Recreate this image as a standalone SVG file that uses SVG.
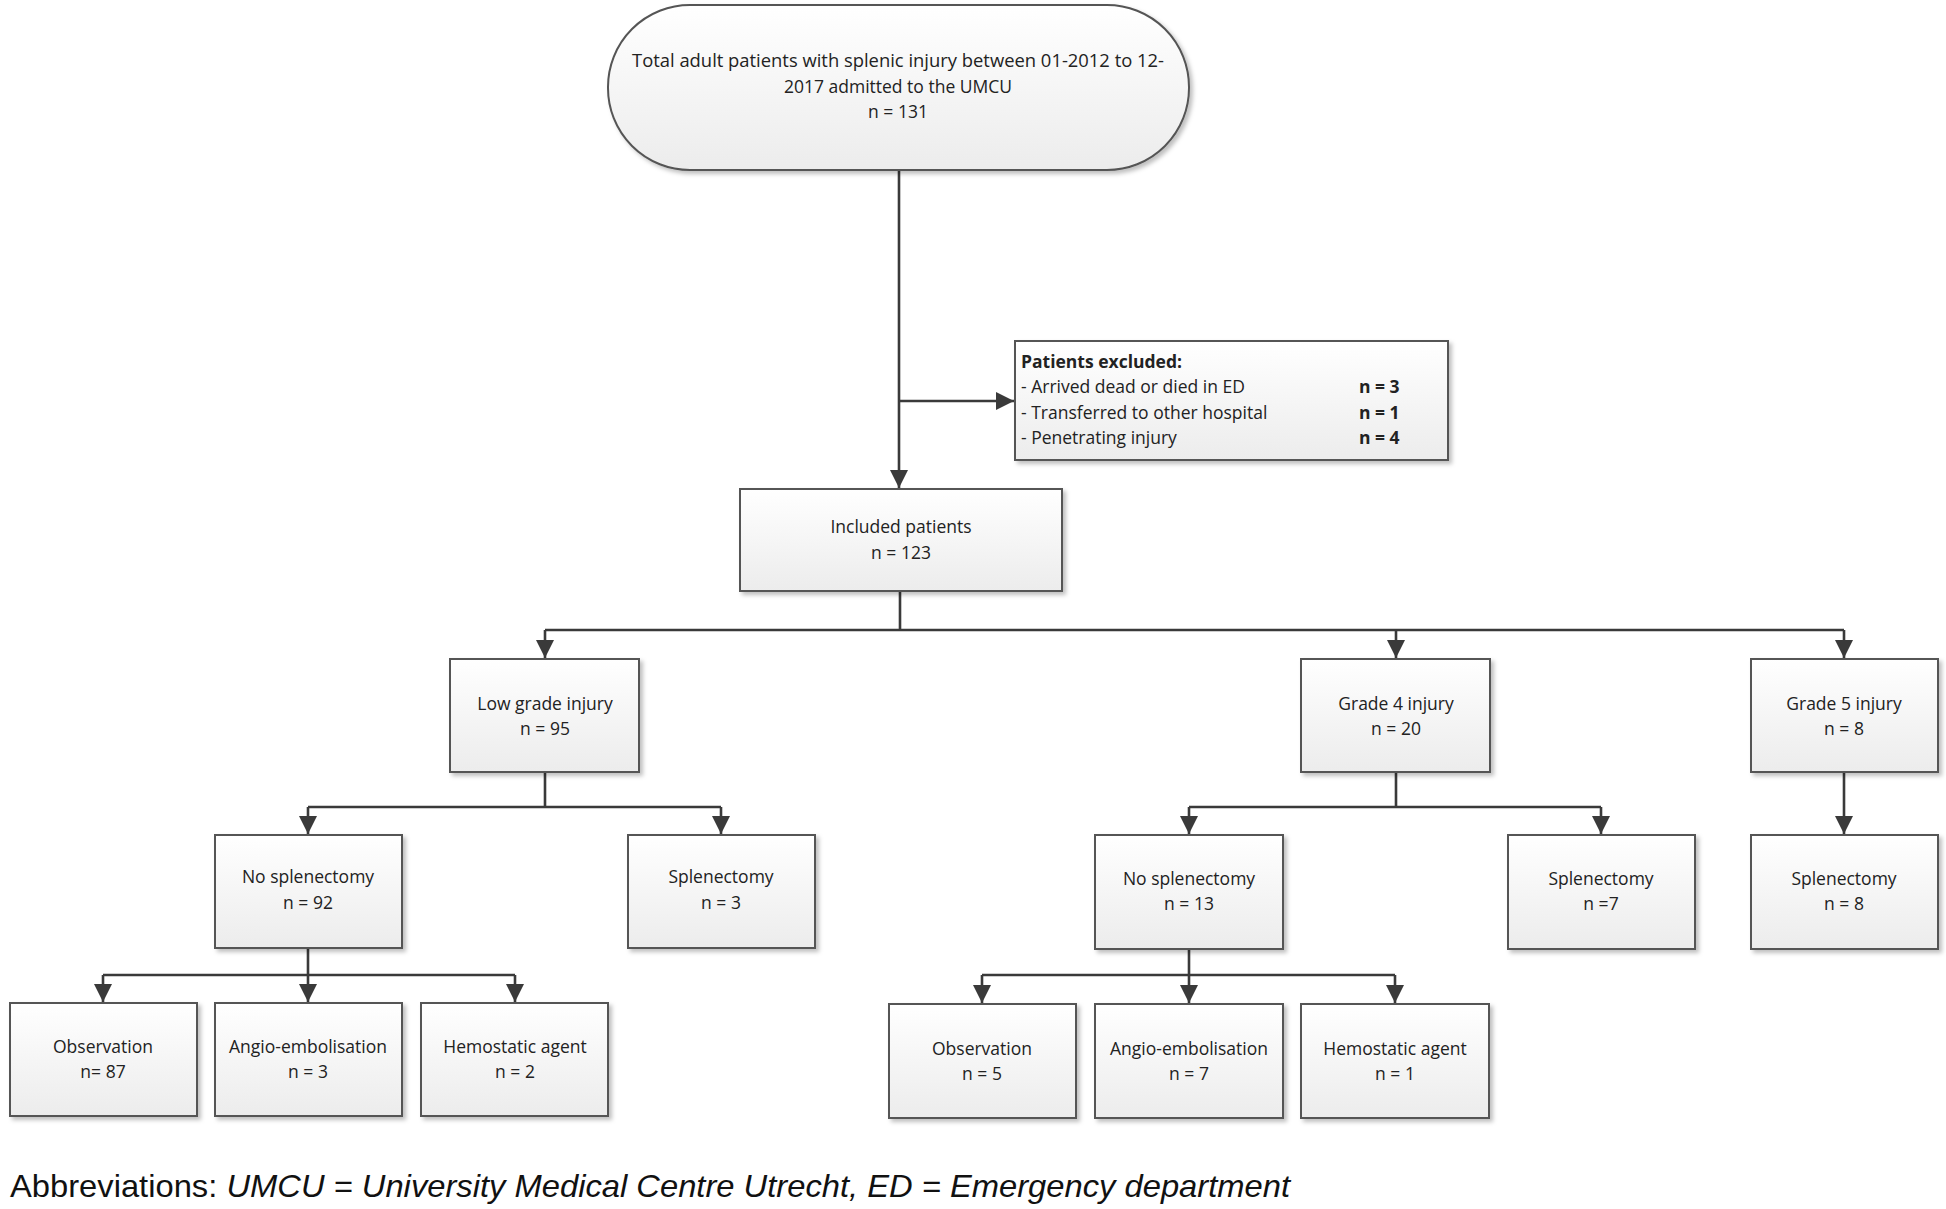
<svg xmlns="http://www.w3.org/2000/svg" width="1946" height="1209" viewBox="0 0 1946 1209">
<defs>
<linearGradient id="g" x1="0" y1="0" x2="0" y2="1">
<stop offset="0" stop-color="#ffffff"/>
<stop offset="1" stop-color="#ececec"/>
</linearGradient>
<filter id="sh" x="-10%" y="-10%" width="125%" height="130%">
<feDropShadow dx="3" dy="3" stdDeviation="2" flood-color="#000" flood-opacity="0.25"/>
</filter>
<marker id="ar" viewBox="0 0 10 10" refX="10" refY="5" markerWidth="7" markerHeight="7" orient="auto" markerUnits="strokeWidth">
<path d="M0,0 L10,5 L0,10 z" fill="#3a3a3a"/>
</marker>
</defs>
<style>
.box{fill:url(#g);stroke:#555;stroke-width:2;filter:url(#sh)}
.t{font-family:"Open Sans","Noto Sans",sans-serif;font-size:17.5px;fill:#222;text-anchor:middle}
.tl{font-family:"Open Sans","Noto Sans",sans-serif;font-size:17.5px;fill:#222}
.b{font-weight:bold}
.c{fill:none;stroke:#3a3a3a;stroke-width:2.6}
.a{marker-end:url(#ar)}
.ab{font-family:"Liberation Sans",Arial,sans-serif;font-size:32px;fill:#111}
</style>
<rect width="1946" height="1209" fill="#fff"/>
<g id="connectors">
<path class="c a" d="M899,170 V488"/>
<path class="c a" d="M899,401 H1014"/>
<path class="c" d="M900,591 V630 M545,630 H1844"/>
<path class="c a" d="M545,630 V658"/>
<path class="c a" d="M1396,630 V658"/>
<path class="c a" d="M1844,630 V658"/>
<path class="c" d="M545,772 V807 M308,807 H721"/>
<path class="c a" d="M308,807 V834"/>
<path class="c a" d="M721,807 V834"/>
<path class="c" d="M308,948 V975 M103,975 H515"/>
<path class="c a" d="M103,975 V1002"/>
<path class="c a" d="M308,975 V1002"/>
<path class="c a" d="M515,975 V1002"/>
<path class="c" d="M1396,772 V807 M1189,807 H1601"/>
<path class="c a" d="M1189,807 V834"/>
<path class="c a" d="M1601,807 V834"/>
<path class="c a" d="M1844,772 V834"/>
<path class="c" d="M1189,949 V975 M982,975 H1395"/>
<path class="c a" d="M982,975 V1003"/>
<path class="c a" d="M1189,975 V1003"/>
<path class="c a" d="M1395,975 V1003"/>
</g>
<g id="total">
<rect class="box" x="608" y="5" width="581" height="165" rx="82" ry="82"/>
<text class="t" x="898" y="67" textLength="532" lengthAdjust="spacingAndGlyphs">Total adult patients with splenic injury between 01-2012 to 12-</text>
<text class="t" x="898" y="93">2017 admitted to the UMCU</text>
<text class="t" x="898" y="118">n = 131</text>
</g>
<g id="excluded">
<rect class="box" x="1015" y="341" width="433" height="119"/>
<text class="tl b" x="1021" y="368">Patients excluded:</text>
<text class="tl" x="1021" y="393">- Arrived dead or died in ED</text>
<text class="tl" x="1021" y="419">- Transferred to other hospital</text>
<text class="tl" x="1021" y="444">- Penetrating injury</text>
<text class="tl b" x="1359" y="393">n = 3</text>
<text class="tl b" x="1359" y="419">n = 1</text>
<text class="tl b" x="1359" y="444">n = 4</text>
</g>
<g id="included">
<rect class="box" x="740" y="489" width="322" height="102"/>
<text class="t" x="901" y="533">Included patients</text>
<text class="t" x="901" y="559">n = 123</text>
</g>
<g id="lowgrade">
<rect class="box" x="450" y="659" width="189" height="113"/>
<text class="t" x="545" y="710">Low grade injury</text>
<text class="t" x="545" y="735">n = 95</text>
</g>
<g id="grade4">
<rect class="box" x="1301" y="659" width="189" height="113"/>
<text class="t" x="1396" y="710">Grade 4 injury</text>
<text class="t" x="1396" y="735">n = 20</text>
</g>
<g id="grade5">
<rect class="box" x="1751" y="659" width="187" height="113"/>
<text class="t" x="1844" y="710">Grade 5 injury</text>
<text class="t" x="1844" y="735">n = 8</text>
</g>
<g id="nosplen-low">
<rect class="box" x="215" y="835" width="187" height="113"/>
<text class="t" x="308" y="883">No splenectomy</text>
<text class="t" x="308" y="909">n = 92</text>
</g>
<g id="splen-low">
<rect class="box" x="628" y="835" width="187" height="113"/>
<text class="t" x="721" y="883">Splenectomy</text>
<text class="t" x="721" y="909">n = 3</text>
</g>
<g id="nosplen-g4">
<rect class="box" x="1095" y="835" width="188" height="114"/>
<text class="t" x="1189" y="885">No splenectomy</text>
<text class="t" x="1189" y="910">n = 13</text>
</g>
<g id="splen-g4">
<rect class="box" x="1508" y="835" width="187" height="114"/>
<text class="t" x="1601" y="885">Splenectomy</text>
<text class="t" x="1601" y="910">n =7</text>
</g>
<g id="splen-g5">
<rect class="box" x="1751" y="835" width="187" height="114"/>
<text class="t" x="1844" y="885">Splenectomy</text>
<text class="t" x="1844" y="910">n = 8</text>
</g>
<g id="obs-low">
<rect class="box" x="10" y="1003" width="187" height="113"/>
<text class="t" x="103" y="1053">Observation</text>
<text class="t" x="103" y="1078">n= 87</text>
</g>
<g id="angio-low">
<rect class="box" x="215" y="1003" width="187" height="113"/>
<text class="t" x="308" y="1053">Angio-embolisation</text>
<text class="t" x="308" y="1078">n = 3</text>
</g>
<g id="hemo-low">
<rect class="box" x="421" y="1003" width="187" height="113"/>
<text class="t" x="515" y="1053">Hemostatic agent</text>
<text class="t" x="515" y="1078">n = 2</text>
</g>
<g id="obs-g4">
<rect class="box" x="889" y="1004" width="187" height="114"/>
<text class="t" x="982" y="1055">Observation</text>
<text class="t" x="982" y="1080">n = 5</text>
</g>
<g id="angio-g4">
<rect class="box" x="1095" y="1004" width="188" height="114"/>
<text class="t" x="1189" y="1055">Angio-embolisation</text>
<text class="t" x="1189" y="1080">n = 7</text>
</g>
<g id="hemo-g4">
<rect class="box" x="1301" y="1004" width="188" height="114"/>
<text class="t" x="1395" y="1055">Hemostatic agent</text>
<text class="t" x="1395" y="1080">n = 1</text>
</g>
<text class="ab" x="10" y="1197" textLength="1280" lengthAdjust="spacingAndGlyphs">Abbreviations: <tspan font-style="italic">UMCU = University Medical Centre Utrecht, ED = Emergency department</tspan></text>
</svg>
